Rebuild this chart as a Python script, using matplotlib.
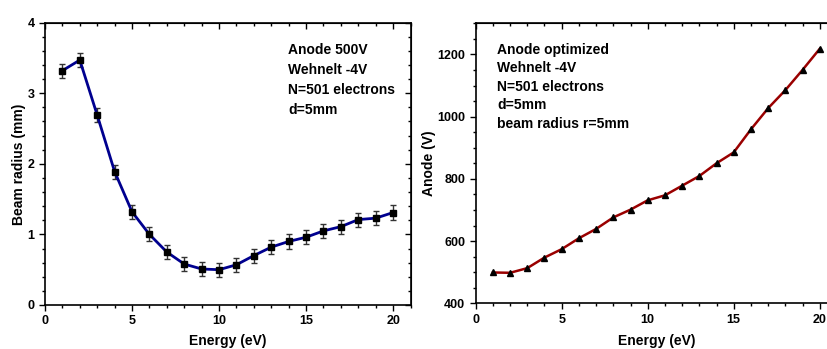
import matplotlib.pyplot as plt
import numpy as np

plt.rcParams['font.family'] = ['Liberation Sans', 'DejaVu Sans']
plt.rcParams['font.weight'] = 'bold'

# dados
energy = np.arange(1, 21)
radius = [3.32, 3.47, 2.69, 1.89, 1.32, 1.00, 0.75, 0.58, 0.51, 0.50,
          0.57, 0.70, 0.82, 0.90, 0.96, 1.05, 1.11, 1.21, 1.23, 1.31]
radius_err = [0.1] * 20
anode = [499, 498, 513, 547, 574, 609, 639, 676, 701, 731,
         747, 778, 809, 850, 885, 959, 1027, 1085, 1150, 1218]

text_left = 'Anode 500V\nWehnelt -4V\nN=501 electrons\nd=5mm'
text_right = 'Anode optimized\nWehnelt -4V\nN=501 electrons\nd=5mm\nbeam radius r=5mm'

fig = plt.figure(figsize=(8.27, 3.49), dpi=100)
ax1 = fig.add_axes([0.0544, 0.1261, 0.442, 0.809])
ax2 = fig.add_axes([0.5752, 0.131, 0.4368, 0.8023])


def estilo(ax):
    ax.minorticks_on()
    ax.tick_params(which='both', direction='out', top=False, right=False, labelsize=9, width=1)
    ax.tick_params(which='major', length=4)
    ax.tick_params(which='minor', length=2.5)
    for s in ax.spines.values():
        s.set_linewidth(1.2)
    # ticks espelhados para dentro no topo e na direita
    for side in ('top', 'right'):
        sec = ax.secondary_xaxis('top') if side == 'top' else ax.secondary_yaxis('right')
        sec.tick_params(which='both', direction='in', labelsize=0, width=1)
        sec.tick_params(which='major', length=4)
        sec.tick_params(which='minor', length=2.5)
        sec.minorticks_on()
        if side == 'top':
            sec.set_xticklabels([])
            sec.xaxis.set_major_locator(ax.xaxis.get_major_locator())
            sec.xaxis.set_minor_locator(ax.xaxis.get_minor_locator())
        else:
            sec.set_yticklabels([])
            sec.yaxis.set_major_locator(ax.yaxis.get_major_locator())
            sec.yaxis.set_minor_locator(ax.yaxis.get_minor_locator())


ax1.errorbar(energy, radius, yerr=radius_err, color='#00008f', lw=2,
             marker='s', ms=5, mfc='black', mec='black',
             ecolor='#333333', elinewidth=1, capsize=2.5, capthick=1)
ax1.set_xlim(0, 21)
ax1.set_ylim(0, 4)
ax1.set_xticks([0, 5, 10, 15, 20])
ax1.set_xticks(np.arange(0, 22, 1), minor=True)
ax1.set_yticks([0, 1, 2, 3, 4])
ax1.set_yticks(np.arange(0, 4.01, 0.2), minor=True)
ax1.set_xlabel('Energy (eV)', fontsize=10, fontweight='bold', labelpad=5)
ax1.set_ylabel('Beam radius (mm)', fontsize=10, fontweight='bold', labelpad=1)
ax1.text(0.665, 0.929, text_left, transform=ax1.transAxes, ha='left', va='top',
         fontsize=10, fontweight='bold', linespacing=1.55)
estilo(ax1)

ax2.plot(energy, anode, color='#9a0000', lw=1.8, marker='^', ms=5,
         mfc='black', mec='black')
ax2.set_xlim(0, 21)
ax2.set_ylim(400, 1300)
ax2.set_xticks([0, 5, 10, 15, 20])
ax2.set_xticks(np.arange(0, 22, 1), minor=True)
ax2.set_yticks([400, 600, 800, 1000, 1200])
ax2.set_yticks(np.arange(400, 1301, 50), minor=True)
ax2.set_xlabel('Energy (eV)', fontsize=10, fontweight='bold', labelpad=6)
ax2.set_ylabel('Anode (V)', fontsize=10, fontweight='bold', labelpad=1)
ax2.text(0.06, 0.931, text_right, transform=ax2.transAxes, ha='left', va='top',
         fontsize=10, fontweight='bold', linespacing=1.42)
estilo(ax2)

fig.savefig('out.png', dpi=100)
